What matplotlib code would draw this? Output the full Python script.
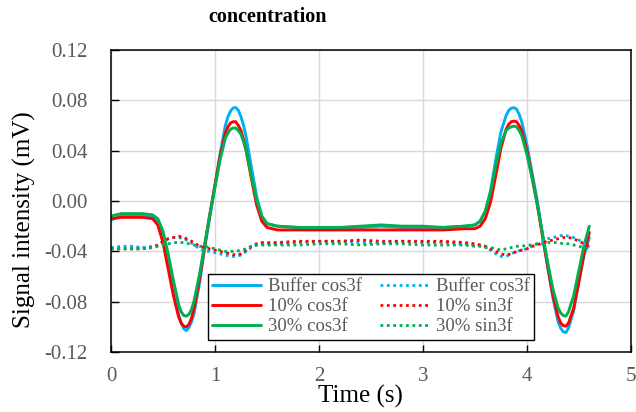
#!/usr/bin/env python3

import matplotlib

matplotlib.use("Agg")
import matplotlib.pyplot as plt
import matplotlib.ticker as ticker


# Time axis (s) for the cos3f traces, denser round the peaks
TIME_COS = [
    0.0, 0.1, 0.2, 0.3, 0.4, 0.45, 0.5, 0.55, 0.6, 0.65,
    0.675, 0.7, 0.725, 0.75, 0.775,
    0.8, 0.85, 0.9, 0.95, 1.0, 1.05, 1.1,
    1.125, 1.15, 1.175, 1.2, 1.225, 1.25, 1.275, 1.3,
    1.35, 1.4, 1.45, 1.5,
    1.6, 1.8, 2.0, 2.2, 2.4, 2.6, 2.8, 3.0, 3.2, 3.4,
    3.5, 3.55, 3.6, 3.65, 3.7, 3.75, 3.8,
    3.825, 3.85, 3.875, 3.9, 3.925, 3.95,
    4.0, 4.05, 4.1, 4.15, 4.2, 4.25, 4.3,
    4.325, 4.35, 4.375, 4.4,
    4.45, 4.5, 4.55, 4.6,
]

# Signal intensity (mV), cos3f component
BUFFER_COS = [
    -0.015, -0.012, -0.012, -0.012, -0.013, -0.017, -0.029, -0.049, -0.071, -0.090,
    -0.097, -0.1015, -0.103, -0.1005, -0.096,
    -0.089, -0.066, -0.038, -0.013, 0.012, 0.038, 0.060,
    0.067, 0.0715, 0.074, 0.0743, 0.072, 0.067, 0.060, 0.051,
    0.027, 0.004, -0.012, -0.018,
    -0.020, -0.021, -0.021, -0.021, -0.021, -0.020, -0.021, -0.021, -0.021, -0.020,
    -0.019, -0.016, -0.008, 0.008, 0.033, 0.055, 0.068,
    0.072, 0.0738, 0.0742, 0.073, 0.069, 0.063,
    0.045, 0.022, 0.000, -0.027, -0.053, -0.077, -0.096,
    -0.101, -0.104, -0.1045, -0.101,
    -0.087, -0.064, -0.043, -0.029,
]
P10_COS = [
    -0.014, -0.013, -0.013, -0.013, -0.014, -0.019, -0.033, -0.054, -0.075, -0.092,
    -0.097, -0.0995, -0.100, -0.098, -0.093,
    -0.085, -0.063, -0.036, -0.011, 0.013, 0.036, 0.054,
    0.059, 0.062, 0.063, 0.063, 0.060, 0.056, 0.049, 0.040,
    0.018, -0.003, -0.016, -0.021,
    -0.023, -0.023, -0.023, -0.023, -0.023, -0.023, -0.023, -0.023, -0.023, -0.022,
    -0.022, -0.020, -0.014, -0.001, 0.020, 0.042, 0.057,
    0.061, 0.063, 0.0635, 0.063, 0.060, 0.056,
    0.040, 0.019, -0.003, -0.028, -0.052, -0.075, -0.092,
    -0.097, -0.099, -0.0995, -0.097,
    -0.085, -0.064, -0.041, -0.025,
]
P30_COS = [
    -0.012, -0.010, -0.010, -0.010, -0.011, -0.014, -0.024, -0.042, -0.063, -0.082,
    -0.088, -0.091, -0.0915, -0.090, -0.086,
    -0.079, -0.059, -0.035, -0.011, 0.011, 0.033, 0.050,
    0.054, 0.057, 0.058, 0.058, 0.056, 0.053, 0.047, 0.040,
    0.020, 0.001, -0.012, -0.018,
    -0.020, -0.021, -0.021, -0.021, -0.020, -0.019, -0.020, -0.020, -0.021, -0.020,
    -0.019, -0.016, -0.008, 0.007, 0.028, 0.046, 0.056,
    0.058, 0.059, 0.0595, 0.059, 0.056, 0.052,
    0.037, 0.018, -0.003, -0.026, -0.049, -0.070, -0.085,
    -0.089, -0.091, -0.0915, -0.088,
    -0.075, -0.055, -0.035, -0.020,
]

# Time axis (s) for the sin3f traces
TIME_SIN = [
    0.0, 0.1, 0.2, 0.3, 0.4,
    0.45, 0.5, 0.55, 0.6, 0.65, 0.7, 0.75, 0.8, 0.85, 0.9, 0.95, 1.0,
    1.05, 1.1, 1.15, 1.2, 1.25, 1.3, 1.35, 1.4, 1.45, 1.5,
    1.6, 1.8, 2.0, 2.2, 2.4, 2.6, 2.8, 3.0, 3.2, 3.4,
    3.5, 3.55, 3.6, 3.65, 3.7, 3.75, 3.8, 3.85, 3.9, 3.95, 4.0,
    4.05, 4.1, 4.15, 4.2, 4.25, 4.3, 4.35, 4.4, 4.45, 4.5, 4.55, 4.6,
]

# Signal intensity (mV), sin3f component
BUFFER_SIN = [
    -0.037, -0.036, -0.036, -0.037, -0.036,
    -0.035, -0.033, -0.030, -0.029, -0.029, -0.030, -0.032, -0.035, -0.038, -0.040, -0.040, -0.041,
    -0.042, -0.043, -0.044, -0.044, -0.043, -0.040, -0.037, -0.035, -0.034, -0.034,
    -0.034, -0.033, -0.032, -0.032, -0.033, -0.033, -0.032, -0.033, -0.033, -0.034,
    -0.035, -0.035, -0.036, -0.039, -0.042, -0.044, -0.044, -0.042, -0.040, -0.039, -0.038,
    -0.036, -0.034, -0.032, -0.030, -0.029, -0.028, -0.027, -0.028, -0.029, -0.031, -0.034, -0.037,
]
P10_SIN = [
    -0.038, -0.038, -0.038, -0.038, -0.037,
    -0.035, -0.032, -0.030, -0.029, -0.028, -0.029, -0.031, -0.033, -0.036, -0.037, -0.038, -0.039,
    -0.040, -0.041, -0.042, -0.043, -0.042, -0.039, -0.036, -0.034, -0.033, -0.033,
    -0.033, -0.032, -0.032, -0.032, -0.031, -0.032, -0.032, -0.032, -0.032, -0.033,
    -0.034, -0.035, -0.036, -0.038, -0.040, -0.042, -0.043, -0.042, -0.040, -0.039, -0.038,
    -0.036, -0.035, -0.033, -0.032, -0.031, -0.030, -0.029, -0.029, -0.030, -0.032, -0.034, -0.036,
]
P30_SIN = [
    -0.038, -0.038, -0.038, -0.038, -0.037,
    -0.036, -0.035, -0.034, -0.033, -0.033, -0.033, -0.034, -0.035, -0.036, -0.036, -0.037, -0.038,
    -0.039, -0.040, -0.040, -0.040, -0.039, -0.038, -0.036, -0.035, -0.035, -0.035,
    -0.035, -0.035, -0.034, -0.034, -0.035, -0.034, -0.034, -0.035, -0.035, -0.035,
    -0.036, -0.036, -0.037, -0.037, -0.038, -0.039, -0.038, -0.037, -0.036, -0.036, -0.035,
    -0.035, -0.034, -0.034, -0.033, -0.033, -0.033, -0.034, -0.034, -0.035, -0.036, -0.037, -0.038,
]

SERIES = [
    ("Buffer cos3f", TIME_COS, BUFFER_COS, "#00B0F0", "-"),
    ("10% cos3f", TIME_COS, P10_COS, "#FF0000", "-"),
    ("30% cos3f", TIME_COS, P30_COS, "#00B050", "-"),
    ("Buffer cos3f", TIME_SIN, BUFFER_SIN, "#00B0F0", "dotted"),
    ("10% sin3f", TIME_SIN, P10_SIN, "#FF0000", "dotted"),
    ("30% sin3f", TIME_SIN, P30_SIN, "#00B050", "dotted"),
]

TITLE = "concentration"
XLABEL = "Time (s)"
YLABEL = "Signal intensity (mV)"

GREY = "#595959"
SOLID = {"linewidth": 2.1, "solid_capstyle": "round", "solid_joinstyle": "round"}
DOTTED = {"linewidth": 2.0, "linestyle": (0, (1, 1.3))}


def main():
    plt.rcParams["font.family"] = ["Liberation Serif", "DejaVu Serif"]

    figure = plt.figure(figsize=(6.36, 4.12), dpi=100)
    axis = figure.add_axes([0.1745, 0.1456, 0.8175, 0.733])

    for label, time, values, color, style in SERIES:
        extra = SOLID if style == "-" else DOTTED
        axis.plot(time, values, color=color, label=label, **extra)

    axis.set_xlim(0, 5)
    axis.set_ylim(-0.12, 0.12)
    axis.xaxis.set_major_locator(ticker.MultipleLocator(1))
    axis.yaxis.set_major_locator(ticker.MultipleLocator(0.04))
    axis.yaxis.set_major_formatter(
        ticker.FuncFormatter(lambda y, pos: f"{y:.2f}".replace("-0.00", "0.00"))
    )

    axis.grid(color="#D9D9D9", linewidth=1.0)
    axis.set_axisbelow(True)
    for spine in axis.spines.values():
        spine.set_color("black")
        spine.set_linewidth(1.1)

    axis.tick_params(
        axis="both", direction="in", colors="black", labelcolor=GREY, labelsize=15, width=1
    )
    axis.tick_params(axis="y", length=6, pad=17)
    axis.tick_params(axis="x", length=5, pad=11)

    axis.set_xlabel(XLABEL, fontsize=18)
    axis.xaxis.set_label_coords(0.479, -0.11)
    axis.set_ylabel(YLABEL, fontsize=18)
    axis.yaxis.set_label_coords(-0.145, 0.44)

    figure.text(
        268 / 636, 1 - 17 / 412, TITLE,
        ha="center", va="center", fontsize=14.5, fontweight="bold",
    )

    legend = axis.legend(
        loc="lower center",
        bbox_to_anchor=(0.5, 0.04),
        ncol=2,
        fontsize=13.5,
        labelcolor=GREY,
        frameon=True,
        fancybox=False,
        framealpha=1,
        edgecolor="black",
        handlelength=2.6,
        handletextpad=0.35,
        labelspacing=0.15,
        columnspacing=1.0,
        borderpad=0.25,
        borderaxespad=0,
    )
    legend.get_frame().set_linewidth(1.0)

    figure.savefig("out.png", dpi=100)


if __name__ == "__main__":
    main()
